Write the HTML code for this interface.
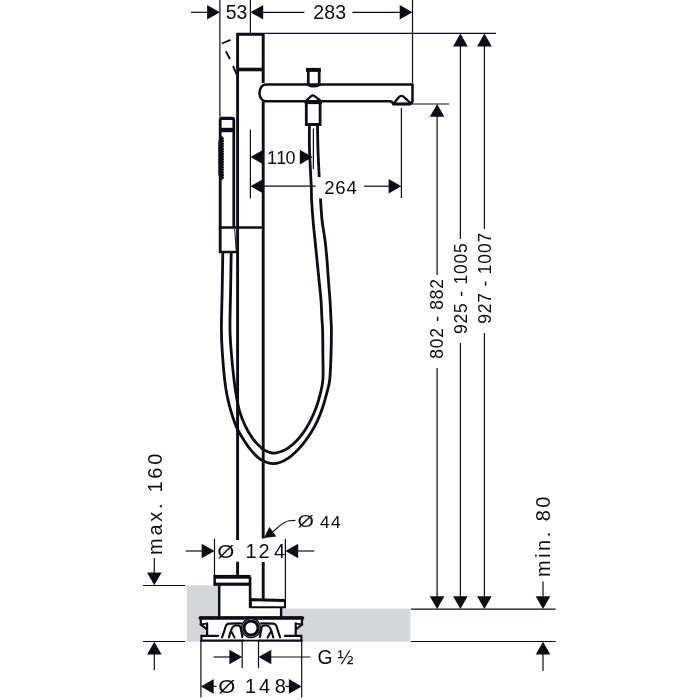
<!DOCTYPE html>
<html lang="en"><head><meta charset="utf-8"><title>Dimension drawing</title>
<style>
html,body{margin:0;padding:0;background:#fff}
svg{display:block;will-change:transform}
text{font-family:"Liberation Sans",sans-serif;fill:#0e0c18}
</style></head>
<body>
<svg width="700" height="700" viewBox="0 0 700 700">
<rect width="700" height="700" fill="#fff"/>
<rect x="186.8" y="585.3" width="34" height="56.5" fill="#d4d7d9"/>
<rect x="281" y="608.5" width="129.3" height="33.3" fill="#d4d7d9"/>
<line x1="219.9" y1="0" x2="219.9" y2="117" stroke="#0e0c18" stroke-width="1.2" stroke-linecap="butt"/>
<line x1="250.4" y1="0" x2="250.4" y2="33" stroke="#0e0c18" stroke-width="1.2" stroke-linecap="butt"/>
<line x1="412.5" y1="0" x2="412.5" y2="83" stroke="#0e0c18" stroke-width="1.2" stroke-linecap="butt"/>
<line x1="191" y1="12.3" x2="207.5" y2="12.3" stroke="#0e0c18" stroke-width="1.2" stroke-linecap="butt"/>
<polygon points="219.90,12.30 207.10,5.00 207.10,19.60" fill="#0e0c18"/>
<polygon points="250.40,12.30 263.20,5.00 263.20,19.60" fill="#0e0c18"/>
<line x1="262.5" y1="12.3" x2="304.4" y2="12.3" stroke="#0e0c18" stroke-width="1.2" stroke-linecap="butt"/>
<line x1="352.4" y1="12.3" x2="400" y2="12.3" stroke="#0e0c18" stroke-width="1.2" stroke-linecap="butt"/>
<polygon points="412.50,12.30 399.70,5.00 399.70,19.60" fill="#0e0c18"/>
<line x1="264" y1="33.4" x2="496" y2="33.4" stroke="#0e0c18" stroke-width="1.2" stroke-linecap="butt"/>
<line x1="412" y1="104" x2="449" y2="104" stroke="#0e0c18" stroke-width="1.2" stroke-linecap="butt"/>
<line x1="437.1" y1="116" x2="437.1" y2="275" stroke="#0e0c18" stroke-width="1.2" stroke-linecap="butt"/>
<line x1="437.1" y1="368" x2="437.1" y2="597" stroke="#0e0c18" stroke-width="1.2" stroke-linecap="butt"/>
<line x1="460.4" y1="45" x2="460.4" y2="239" stroke="#0e0c18" stroke-width="1.2" stroke-linecap="butt"/>
<line x1="460.4" y1="343" x2="460.4" y2="597" stroke="#0e0c18" stroke-width="1.2" stroke-linecap="butt"/>
<line x1="484.4" y1="45" x2="484.4" y2="229" stroke="#0e0c18" stroke-width="1.2" stroke-linecap="butt"/>
<line x1="484.4" y1="333" x2="484.4" y2="597" stroke="#0e0c18" stroke-width="1.2" stroke-linecap="butt"/>
<polygon points="437.10,104.00 429.80,116.80 444.40,116.80" fill="#0e0c18"/>
<polygon points="460.40,33.60 453.10,46.40 467.70,46.40" fill="#0e0c18"/>
<polygon points="484.40,33.60 477.10,46.40 491.70,46.40" fill="#0e0c18"/>
<polygon points="437.10,609.00 429.80,596.20 444.40,596.20" fill="#0e0c18"/>
<polygon points="460.40,609.00 453.10,596.20 467.70,596.20" fill="#0e0c18"/>
<polygon points="484.40,609.00 477.10,596.20 491.70,596.20" fill="#0e0c18"/>
<line x1="410.9" y1="609.1" x2="555.7" y2="609.1" stroke="#0e0c18" stroke-width="1.2" stroke-linecap="butt"/>
<line x1="410.9" y1="641.5" x2="555.7" y2="641.5" stroke="#0e0c18" stroke-width="1.2" stroke-linecap="butt"/>
<line x1="543" y1="581.4" x2="543" y2="597" stroke="#0e0c18" stroke-width="1.2" stroke-linecap="butt"/>
<polygon points="543.00,609.00 535.70,596.20 550.30,596.20" fill="#0e0c18"/>
<polygon points="543.00,641.70 535.70,654.50 550.30,654.50" fill="#0e0c18"/>
<line x1="543" y1="654" x2="543" y2="671" stroke="#0e0c18" stroke-width="1.2" stroke-linecap="butt"/>
<line x1="143" y1="585.5" x2="185" y2="585.5" stroke="#0e0c18" stroke-width="1.2" stroke-linecap="butt"/>
<line x1="143" y1="641.5" x2="185" y2="641.5" stroke="#0e0c18" stroke-width="1.2" stroke-linecap="butt"/>
<line x1="154.3" y1="558" x2="154.3" y2="573" stroke="#0e0c18" stroke-width="1.2" stroke-linecap="butt"/>
<polygon points="154.30,585.30 147.00,572.50 161.60,572.50" fill="#0e0c18"/>
<polygon points="154.30,641.70 147.00,654.50 161.60,654.50" fill="#0e0c18"/>
<line x1="154.3" y1="654" x2="154.3" y2="670" stroke="#0e0c18" stroke-width="1.2" stroke-linecap="butt"/>
<line x1="250.4" y1="129.4" x2="250.4" y2="198.6" stroke="#0e0c18" stroke-width="1.2" stroke-linecap="butt"/>
<line x1="313.4" y1="128.6" x2="313.4" y2="169" stroke="#0e0c18" stroke-width="1.2" stroke-linecap="butt"/>
<polygon points="250.50,157.10 263.30,149.80 263.30,164.40" fill="#0e0c18"/>
<polygon points="312.60,157.10 299.80,149.80 299.80,164.40" fill="#0e0c18"/>
<polygon points="250.50,186.20 263.30,178.90 263.30,193.50" fill="#0e0c18"/>
<line x1="262.5" y1="186.2" x2="315.7" y2="186.2" stroke="#0e0c18" stroke-width="1.2" stroke-linecap="butt"/>
<line x1="364" y1="186.2" x2="389.5" y2="186.2" stroke="#0e0c18" stroke-width="1.2" stroke-linecap="butt"/>
<polygon points="401.40,186.20 388.60,178.90 388.60,193.50" fill="#0e0c18"/>
<line x1="401.4" y1="108" x2="401.4" y2="198" stroke="#0e0c18" stroke-width="1.2" stroke-linecap="butt"/>
<line x1="214.5" y1="539" x2="214.5" y2="576" stroke="#0e0c18" stroke-width="1.2" stroke-linecap="butt"/>
<line x1="285.4" y1="539" x2="285.4" y2="599" stroke="#0e0c18" stroke-width="1.2" stroke-linecap="butt"/>
<line x1="185.7" y1="551" x2="202.5" y2="551" stroke="#0e0c18" stroke-width="1.2" stroke-linecap="butt"/>
<polygon points="214.50,551.00 201.70,543.70 201.70,558.30" fill="#0e0c18"/>
<polygon points="285.40,551.00 298.20,543.70 298.20,558.30" fill="#0e0c18"/>
<line x1="297.5" y1="551" x2="314.3" y2="551" stroke="#0e0c18" stroke-width="1.2" stroke-linecap="butt"/>
<line x1="242.2" y1="638" x2="242.2" y2="668" stroke="#0e0c18" stroke-width="1.2" stroke-linecap="butt"/>
<line x1="258.5" y1="638" x2="258.5" y2="668" stroke="#0e0c18" stroke-width="1.2" stroke-linecap="butt"/>
<line x1="213.5" y1="657" x2="230" y2="657" stroke="#0e0c18" stroke-width="1.2" stroke-linecap="butt"/>
<polygon points="242.20,657.00 229.40,649.70 229.40,664.30" fill="#0e0c18"/>
<polygon points="258.50,657.00 271.30,649.70 271.30,664.30" fill="#0e0c18"/>
<line x1="270.5" y1="657" x2="310.5" y2="657" stroke="#0e0c18" stroke-width="1.2" stroke-linecap="butt"/>
<line x1="200.9" y1="640" x2="200.9" y2="697.5" stroke="#0e0c18" stroke-width="1.2" stroke-linecap="butt"/>
<line x1="301.7" y1="640" x2="301.7" y2="697.5" stroke="#0e0c18" stroke-width="1.2" stroke-linecap="butt"/>
<polygon points="200.90,686.40 213.70,679.10 213.70,693.70" fill="#0e0c18"/>
<line x1="213" y1="686.4" x2="216.6" y2="686.4" stroke="#0e0c18" stroke-width="1.2" stroke-linecap="butt"/>
<polygon points="301.70,686.40 288.90,679.10 288.90,693.70" fill="#0e0c18"/>
<line x1="285.5" y1="686.4" x2="289.5" y2="686.4" stroke="#0e0c18" stroke-width="1.2" stroke-linecap="butt"/>
<path d="M222,43.5 L230.5,39.8 M225.8,51.2 L230,59 M233,66 L236.5,74" fill="none" stroke="#0e0c18" stroke-width="1.9" stroke-linejoin="round" stroke-linecap="butt" />
<path d="M237.6,539.9 V34.2 H263.2 V83" fill="none" stroke="#0e0c18" stroke-width="2.9" stroke-linejoin="miter" stroke-linecap="butt" />
<line x1="263.2" y1="101.4" x2="263.2" y2="538.6" stroke="#0e0c18" stroke-width="2.9" stroke-linecap="butt"/>
<line x1="237.6" y1="561.7" x2="237.6" y2="576" stroke="#0e0c18" stroke-width="2.9" stroke-linecap="butt"/>
<line x1="263.2" y1="562" x2="263.2" y2="599" stroke="#0e0c18" stroke-width="2.9" stroke-linecap="butt"/>
<line x1="237.6" y1="69.5" x2="263.2" y2="69.5" stroke="#0e0c18" stroke-width="3.6" stroke-linecap="butt"/>
<line x1="218.8" y1="227.5" x2="263.2" y2="227.5" stroke="#0e0c18" stroke-width="2.5" stroke-linecap="butt"/>
<path d="M265.5,84.6 H412.5 V100.5 Q412.5,104 409,104 H393.2 Q392.2,101.3 390,101.3 H265.5 A6,8.35 0 0 1 265.5,84.6 Z" fill="none" stroke="#0e0c18" stroke-width="2.5" stroke-linejoin="round" stroke-linecap="round" />
<path d="M393.6,103.4 L398.6,97.4 Q401.5,94.4 404.4,97.4 L410.2,102.8" fill="none" stroke="#0e0c18" stroke-width="2.3" stroke-linejoin="round" stroke-linecap="round" />
<line x1="392.5" y1="104" x2="410.5" y2="104" stroke="#0e0c18" stroke-width="2.8" stroke-linecap="butt"/>
<line x1="306" y1="69.9" x2="320.8" y2="69.9" stroke="#0e0c18" stroke-width="4.0" stroke-linecap="butt"/>
<line x1="308.3" y1="69.7" x2="308.3" y2="85" stroke="#0e0c18" stroke-width="2.7" stroke-linecap="butt"/>
<line x1="319.2" y1="69.7" x2="319.2" y2="85" stroke="#0e0c18" stroke-width="2.7" stroke-linecap="butt"/>
<path d="M307.5,84.6 Q313.8,88.2 320,84.6" fill="none" stroke="#0e0c18" stroke-width="2.4" stroke-linejoin="round" stroke-linecap="round" />
<path d="M305.2,101.5 L310.9,96.3 Q312.9,94.4 314.9,96.3 L321.4,101.5" fill="none" stroke="#0e0c18" stroke-width="2.3" stroke-linejoin="round" stroke-linecap="round" />
<line x1="304.8" y1="102.6" x2="321.8" y2="102.6" stroke="#0e0c18" stroke-width="3.0" stroke-linecap="butt"/>
<path d="M306.3,102.6 V124.5 H320.1 V102.6" fill="none" stroke="#0e0c18" stroke-width="2.8" stroke-linejoin="miter" stroke-linecap="butt" />
<path d="M222.80,252.00 C222.70,258.33 222.43,277.00 222.20,290.00 C221.97,303.00 221.35,319.17 221.40,330.00 C221.45,340.83 221.95,346.67 222.50,355.00 C223.05,363.33 223.93,373.22 224.70,380.00 C225.47,386.78 226.05,390.47 227.10,395.70 C228.15,400.93 229.43,406.17 231.00,411.40 C232.57,416.63 234.40,422.38 236.50,427.10 C238.60,431.82 241.12,435.77 243.60,439.70 C246.08,443.63 248.78,447.55 251.40,450.70 C254.02,453.85 256.68,456.63 259.30,458.60 C261.92,460.57 264.75,461.67 267.10,462.50 C269.45,463.33 271.30,463.60 273.40,463.60 C275.50,463.60 277.33,463.33 279.70,462.50 C282.07,461.67 284.98,460.30 287.60,458.60 C290.22,456.90 292.78,454.80 295.40,452.30 C298.02,449.80 300.68,446.88 303.30,443.60 C305.92,440.32 308.75,436.38 311.10,432.60 C313.45,428.82 315.43,425.22 317.40,420.90 C319.37,416.58 321.32,411.42 322.90,406.70 C324.48,401.98 325.77,397.05 326.90,392.60 C328.03,388.15 329.02,386.27 329.70,380.00 C330.38,373.73 330.72,363.33 331.00,355.00 C331.28,346.67 331.40,335.83 331.40,330.00 C331.40,324.17 331.23,325.00 331.00,320.00 C330.77,315.00 330.43,306.67 330.00,300.00 C329.57,293.33 328.90,286.67 328.40,280.00 C327.90,273.33 327.57,266.67 327.00,260.00 C326.43,253.33 325.83,246.67 325.00,240.00 C324.17,233.33 322.75,226.92 322.00,220.00 C321.25,213.08 320.75,202.08 320.50,198.50" fill="none" stroke="#0e0c18" stroke-width="2.8" stroke-linejoin="round" stroke-linecap="butt" />
<path d="M317.50,125.00 C317.58,129.17 317.72,141.33 318.00,150.00 C318.28,158.67 319.00,172.50 319.20,177.00" fill="none" stroke="#0e0c18" stroke-width="2.8" stroke-linejoin="round" stroke-linecap="butt" />
<path d="M231.20,252.00 C231.10,258.33 230.80,277.00 230.60,290.00 C230.40,303.00 229.82,318.83 230.00,330.00 C230.18,341.17 231.05,348.90 231.70,357.00 C232.35,365.10 233.13,372.15 233.90,378.60 C234.67,385.05 235.35,390.23 236.30,395.70 C237.25,401.17 238.13,406.42 239.60,411.40 C241.07,416.38 243.13,421.40 245.10,425.60 C247.07,429.80 249.30,433.47 251.40,436.60 C253.50,439.73 255.60,442.18 257.70,444.40 C259.80,446.62 261.90,448.53 264.00,449.90 C266.10,451.27 268.47,452.07 270.30,452.60 C272.13,453.13 273.17,453.28 275.00,453.10 C276.83,452.92 279.20,452.28 281.30,451.50 C283.40,450.72 285.25,449.97 287.60,448.40 C289.95,446.83 292.78,444.73 295.40,442.10 C298.02,439.47 300.93,435.88 303.30,432.60 C305.67,429.32 307.50,426.45 309.60,422.40 C311.70,418.35 314.20,412.75 315.90,408.30 C317.60,403.85 318.63,400.42 319.80,395.70 C320.97,390.98 322.38,386.78 322.90,380.00 C323.42,373.22 322.95,363.33 322.90,355.00 C322.85,346.67 322.75,335.83 322.60,330.00 C322.45,324.17 322.27,325.00 322.00,320.00 C321.73,315.00 321.50,306.67 321.00,300.00 C320.50,293.33 319.67,286.67 319.00,280.00 C318.33,273.33 317.67,266.67 317.00,260.00 C316.33,253.33 315.67,246.67 315.00,240.00 C314.33,233.33 313.57,226.67 313.00,220.00 C312.43,213.33 311.90,205.83 311.60,200.00 C311.30,194.17 311.55,193.33 311.20,185.00 C310.85,176.67 309.80,160.00 309.50,150.00 C309.20,140.00 309.42,129.17 309.40,125.00" fill="none" stroke="#0e0c18" stroke-width="2.8" stroke-linejoin="round" stroke-linecap="butt" />
<path d="M220.2,252 V120 Q220.2,118.2 222,118.2 H232 Q233.8,118.2 233.8,120 V227.5" fill="none" stroke="#0e0c18" stroke-width="2.8" stroke-linejoin="round" stroke-linecap="butt" />
<line x1="219" y1="130" x2="235" y2="130" stroke="#0e0c18" stroke-width="4.4" stroke-linecap="butt"/>
<line x1="221.4" y1="118.5" x2="232.6" y2="118.5" stroke="#0e0c18" stroke-width="3.0" stroke-linecap="round"/>
<line x1="218.9" y1="252" x2="239" y2="252" stroke="#0e0c18" stroke-width="2.5" stroke-linecap="butt"/>
<line x1="234.7" y1="229" x2="236.2" y2="250.5" stroke="#0e0c18" stroke-width="1.0" stroke-linecap="butt"/>
<path d="M220,136.3 L218.3,142 V174 L220,179.7 L222.6,179.7 V136.3 Z" fill="#0e0c18"/>
<line x1="222.7" y1="138.5" x2="222.7" y2="178.5" stroke="#0e0c18" stroke-width="2.6" stroke-dasharray="0.01 2.6" stroke-linecap="round"/>
<path d="M219.5,584 H250 V607.6 H281 V617.5 H219.5 Z" fill="#fff"/>
<line x1="219.2" y1="584" x2="219.2" y2="617.5" stroke="#0e0c18" stroke-width="2.5" stroke-linecap="butt"/>
<line x1="281.1" y1="608" x2="281.1" y2="617.5" stroke="#0e0c18" stroke-width="2.4" stroke-linecap="butt"/>
<line x1="250.1" y1="577" x2="250.1" y2="607.6" stroke="#0e0c18" stroke-width="2.6" stroke-linecap="butt"/>
<rect x="213.4" y="574.9" width="37.2" height="10.9" fill="#0e0c18"/><rect x="215.9" y="578.7" width="32.8" height="3.9" fill="#fff"/>
<polygon points="249.3,598 286,599 286,608.3 249.3,608.3" fill="#0e0c18"/><polygon points="251.9,601.3 284,601.9 284,606.3 251.9,606.3" fill="#fff"/>
<path d="M201,617.5 H301.8 V623 L296,628 V640 H206.8 V628 L201,623 Z" fill="#fff"/>
<rect x="201.4" y="635.9" width="100" height="4.7" fill="#fff"/>
<path d="M200.8,624.6 V617.7 H302 V624.6" fill="none" stroke="#0e0c18" stroke-width="2.2" stroke-linejoin="round" stroke-linecap="round" />
<line x1="200.2" y1="618" x2="302.6" y2="618" stroke="#0e0c18" stroke-width="3.4" stroke-linecap="round"/>
<path d="M200.8,624.6 L207,629.4 M207.1,623.4 V635.6 M302,624.6 L295.8,629.4 M295.7,623.4 V635.6" fill="none" stroke="#0e0c18" stroke-width="2.2" stroke-linejoin="round" stroke-linecap="round" />
<path d="M200.8,624.4 L207.1,623.6 M302,624.4 L295.7,623.6" fill="none" stroke="#0e0c18" stroke-width="1.6" stroke-linejoin="round" stroke-linecap="round" />
<path d="M218,635.9 H201.4 V640.6 H243 M284.8,635.9 H301.4 V640.6 H259.5" fill="none" stroke="#0e0c18" stroke-width="2.1" stroke-linejoin="miter" stroke-linecap="round" />
<line x1="242" y1="640.6" x2="260" y2="640.6" stroke="#0e0c18" stroke-width="1.8" stroke-linecap="butt"/>
<path d="M222.0,637.4 C223.5,634.0 224.5,630.0 225.7,626.3 C226.3,624.6 227.0,623.7 229.0,623.6 L241.0,623.4" fill="none" stroke="#0e0c18" stroke-width="2.1" stroke-linejoin="round" stroke-linecap="round" />
<path d="M228.9,637.4 C229.6,635.0 230.0,633.5 230.6,631.5 C231.6,628.5 232.5,625.6 235.5,625.5 L238.2,625.5 C239.8,625.5 240.4,626.5 240.7,628.0 L242.4,637.0" fill="none" stroke="#0e0c18" stroke-width="2.1" stroke-linejoin="round" stroke-linecap="round" />
<path d="M231.0,631.0 L234.6,637.6" fill="none" stroke="#0e0c18" stroke-width="2.0" stroke-linejoin="round" stroke-linecap="round" />
<path d="M280.2,637.4 C278.7,634.0 277.7,630.0 276.5,626.3 C275.9,624.6 275.2,623.7 273.2,623.6 L261.2,623.4" fill="none" stroke="#0e0c18" stroke-width="2.1" stroke-linejoin="round" stroke-linecap="round" />
<path d="M273.3,637.4 C272.6,635.0 272.2,633.5 271.6,631.5 C270.6,628.5 269.7,625.6 266.7,625.5 L264.0,625.5 C262.4,625.5 261.8,626.5 261.5,628.0 L259.8,637.0" fill="none" stroke="#0e0c18" stroke-width="2.1" stroke-linejoin="round" stroke-linecap="round" />
<path d="M271.2,631.0 L267.6,637.6" fill="none" stroke="#0e0c18" stroke-width="2.0" stroke-linejoin="round" stroke-linecap="round" />
<circle cx="251" cy="628" r="9.5" fill="#fff" stroke="#0e0c18" stroke-width="1.6"/>
<circle cx="251" cy="628" r="7.05" fill="#fff" stroke="#0e0c18" stroke-width="3.1"/>
<polygon points="264,538 269.3,527.1 276.4,536.4" fill="#0e0c18"/>
<path d="M272.5,532 C279,526.5 284,521.2 289,520.8 L295,520.4" fill="none" stroke="#0e0c18" stroke-width="1.1" stroke-linejoin="round" stroke-linecap="round" />
<rect x="319" y="178" width="42" height="20" fill="#fff"/>
<text x="225.8" y="19.4" font-size="19.4" text-anchor="start" textLength="21.4" lengthAdjust="spacing" >53</text>
<text x="313.2" y="19.4" font-size="19.5" text-anchor="start" textLength="33" lengthAdjust="spacing" >283</text>
<text x="266.9 276.3 285.6" y="163.7" font-size="18">110</text>
<text x="324.2" y="193.7" font-size="18.6" text-anchor="start" textLength="32.6" lengthAdjust="spacing" >264</text>
<text transform="translate(297.4 527.3) scale(1.22 0.92)" font-size="17.3">Ø</text>
<text x="320.1 331.1" y="527.5" font-size="17.3">44</text>
<text transform="translate(217.2 558.2) scale(1.1 0.92)" font-size="20">Ø</text>
<text x="245.6 258.4 273.9" y="558.2" font-size="20">124</text>
<text x="317.6" y="664" font-size="19.3" text-anchor="start" >G</text>
<text x="337.5" y="664" font-size="19.3" text-anchor="start" >½</text>
<text transform="translate(218.2 692.8) scale(1.1 0.92)" font-size="20">Ø</text>
<text x="244.9 259 274.8" y="693" font-size="20">148</text>
<text x="443.4" y="358.7" font-size="17.5" text-anchor="start" textLength="79.6" lengthAdjust="spacing" transform="rotate(-90 443.4 358.7)" >802 - 882</text>
<text x="467.3" y="334" font-size="17.5" text-anchor="start" textLength="90.8" lengthAdjust="spacing" transform="rotate(-90 467.3 334)" >925 - 1005</text>
<text x="491.5" y="323.8" font-size="17.5" text-anchor="start" textLength="91" lengthAdjust="spacing" transform="rotate(-90 491.5 323.8)" >927 - 1007</text>
<text x="550.4" y="577" font-size="20" text-anchor="start" textLength="80.4" lengthAdjust="spacing" transform="rotate(-90 550.4 577)" >min. 80</text>
<text x="162.4" y="554.9" font-size="20" text-anchor="start" textLength="101.2" lengthAdjust="spacing" transform="rotate(-90 162.4 554.9)" >max. 160</text>
</svg>
</body></html>
